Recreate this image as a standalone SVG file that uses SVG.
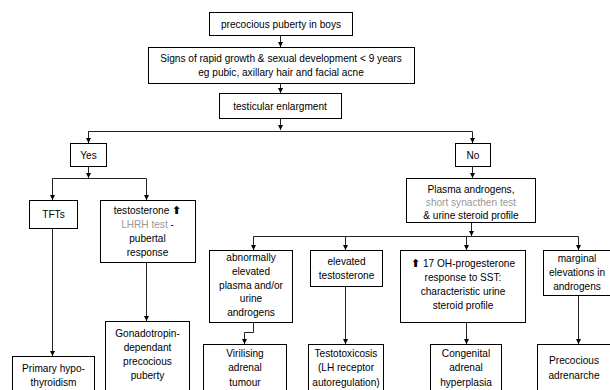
<svg xmlns="http://www.w3.org/2000/svg" width="610" height="390" viewBox="0 0 610 390">
<style>
.box{fill:#fff;stroke:#000;stroke-width:1}
.t{font-family:"Liberation Sans",Arial,sans-serif;font-size:10.1px;fill:#000;text-anchor:middle}
.g{fill:#999}
.c{fill:none;stroke:#222;stroke-width:1}
.up{font-family:"DejaVu Sans",sans-serif;font-weight:bold;font-size:11px}
</style>
<defs>
<marker id="ah" viewBox="0 0 6 6" refX="6" refY="3" markerWidth="5" markerHeight="5" markerUnits="userSpaceOnUse" orient="auto">
<path d="M0,0 L6,3 L0,6 z" fill="#000"/>
</marker>
</defs>
<rect width="610" height="390" fill="#fff"/>
<g id="connectors">
<line class="c" x1="280.5" y1="35" x2="280.5" y2="47" marker-end="url(#ah)"/>
<line class="c" x1="280.5" y1="83" x2="280.5" y2="93" marker-end="url(#ah)"/>
<line class="c" x1="280.5" y1="118" x2="280.5" y2="130" marker-end="url(#ah)"/>
<polyline class="c" points="88.5,143 88.5,131.5 472.5,131.5 472.5,143" marker-end="url(#ah)"/>
<line class="c" x1="88.5" y1="131.5" x2="88.5" y2="143" marker-end="url(#ah)"/>
<line class="c" x1="88.5" y1="166" x2="88.5" y2="178" marker-end="url(#ah)"/>
<polyline class="c" points="52.5,200 52.5,178.5 146.5,178.5 146.5,200" marker-end="url(#ah)"/>
<line class="c" x1="52.5" y1="178.5" x2="52.5" y2="200" marker-end="url(#ah)"/>
<line class="c" x1="52.5" y1="228" x2="52.5" y2="356" marker-end="url(#ah)"/>
<line class="c" x1="146.5" y1="262" x2="146.5" y2="321" marker-end="url(#ah)"/>
<line class="c" x1="472.5" y1="166" x2="472.5" y2="178" marker-end="url(#ah)"/>
<line class="c" x1="471.5" y1="222" x2="471.5" y2="236" marker-end="url(#ah)"/>
<polyline class="c" points="253.5,250 253.5,236.5 578.5,236.5 578.5,250" marker-end="url(#ah)"/>
<line class="c" x1="253.5" y1="236.5" x2="253.5" y2="250" marker-end="url(#ah)"/>
<line class="c" x1="345.5" y1="236.5" x2="345.5" y2="250" marker-end="url(#ah)"/>
<line class="c" x1="466.5" y1="236.5" x2="466.5" y2="250" marker-end="url(#ah)"/>
<polyline class="c" points="253.5,322 253.5,332.5 244.5,332.5 244.5,344" marker-end="url(#ah)"/>
<line class="c" x1="345.5" y1="286" x2="345.5" y2="344" marker-end="url(#ah)"/>
<line class="c" x1="466.5" y1="322" x2="466.5" y2="344" marker-end="url(#ah)"/>
<line class="c" x1="578.5" y1="295" x2="578.5" y2="344" marker-end="url(#ah)"/>
</g>
<g id="n-root"><rect class="box" x="209.5" y="12.5" width="143" height="23"/><text class="t" x="281" y="28">precocious puberty in boys</text></g>
<g id="n-signs"><rect class="box" x="148.5" y="47.5" width="266" height="36"/><text class="t" x="281" y="62">Signs of rapid growth &amp; sexual development &lt; 9 years</text><text class="t" x="281" y="76">eg pubic, axillary hair and facial acne</text></g>
<g id="n-testicular"><rect class="box" x="219.5" y="93.5" width="122" height="25"/><text class="t" x="280" y="110">testicular enlargment</text></g>
<g id="n-yes"><rect class="box" x="70.5" y="143.5" width="36" height="23"/><text class="t" x="88.5" y="159">Yes</text></g>
<g id="n-no"><rect class="box" x="455.5" y="143.5" width="35" height="23"/><text class="t" x="473" y="159">No</text></g>
<g id="n-tfts"><rect class="box" x="29.5" y="200.5" width="48" height="28"/><text class="t" x="53.5" y="218">TFTs</text></g>
<g id="n-testosterone"><rect class="box" x="100.5" y="200.5" width="95" height="62"/><text class="t" x="147.5" y="214">testosterone <tspan class="up">⬆︎</tspan></text><text class="t" x="147.5" y="228"><tspan class="g">LHRH test</tspan> -</text><text class="t" x="147.5" y="242">pubertal</text><text class="t" x="147.5" y="256">response</text></g>
<g id="n-plasma"><rect class="box" x="406.5" y="178.5" width="129" height="44"/><text class="t" x="471" y="193">Plasma androgens,</text><text class="t g" x="471" y="206">short synacthen test</text><text class="t" x="471" y="219">&amp; urine steroid profile</text></g>
<g id="n-abnormal"><rect class="box" x="209.5" y="250.5" width="83" height="72"/><text class="t" x="251" y="261">abnormally</text><text class="t" x="251" y="275">elevated</text><text class="t" x="251" y="289">plasma and/or</text><text class="t" x="251" y="302">urine</text><text class="t" x="251" y="316">androgens</text></g>
<g id="n-elevated"><rect class="box" x="310.5" y="250.5" width="72" height="36"/><text class="t" x="346.5" y="265">elevated</text><text class="t" x="346.5" y="279">testosterone</text></g>
<g id="n-17oh"><rect class="box" x="400.5" y="250.5" width="125" height="72"/><text class="t" x="463" y="267"><tspan class="up">⬆︎</tspan> 17 OH-progesterone</text><text class="t" x="463" y="281">response to SST:</text><text class="t" x="463" y="295">characteristic urine</text><text class="t" x="463" y="309">steroid profile</text></g>
<g id="n-marginal"><rect class="box" x="543.5" y="250.5" width="70" height="45"/><text class="t" x="577" y="262">marginal</text><text class="t" x="577" y="276">elevations in</text><text class="t" x="577" y="290">androgens</text></g>
<g id="n-primary"><rect class="box" x="12.5" y="356.5" width="82" height="40"/><text class="t" x="53.5" y="372">Primary hypo-</text><text class="t" x="53.5" y="386">thyroidism</text></g>
<g id="n-gonado"><rect class="box" x="105.5" y="321.5" width="84" height="75"/><text class="t" x="147.5" y="337">Gonadotropin-</text><text class="t" x="147.5" y="351">dependant</text><text class="t" x="147.5" y="365">precocious</text><text class="t" x="147.5" y="379">puberty</text></g>
<g id="n-virilising"><rect class="box" x="203.5" y="344.5" width="83" height="52"/><text class="t" x="245" y="357">Virilising</text><text class="t" x="245" y="371">adrenal</text><text class="t" x="245" y="386">tumour</text></g>
<g id="n-testotox"><rect class="box" x="308.5" y="344.5" width="75" height="52"/><text class="t" x="346" y="357">Testotoxicosis</text><text class="t" x="346" y="371">(LH receptor</text><text class="t" x="346" y="386">autoregulation)</text></g>
<g id="n-cah"><rect class="box" x="430.5" y="344.5" width="71" height="52"/><text class="t" x="466" y="357">Congenital</text><text class="t" x="466" y="371">adrenal</text><text class="t" x="466" y="386">hyperplasia</text></g>
<g id="n-adrenarche"><rect class="box" x="537.5" y="344.5" width="76" height="52"/><text class="t" x="574" y="364">Precocious</text><text class="t" x="574" y="379">adrenarche</text></g>
</svg>
